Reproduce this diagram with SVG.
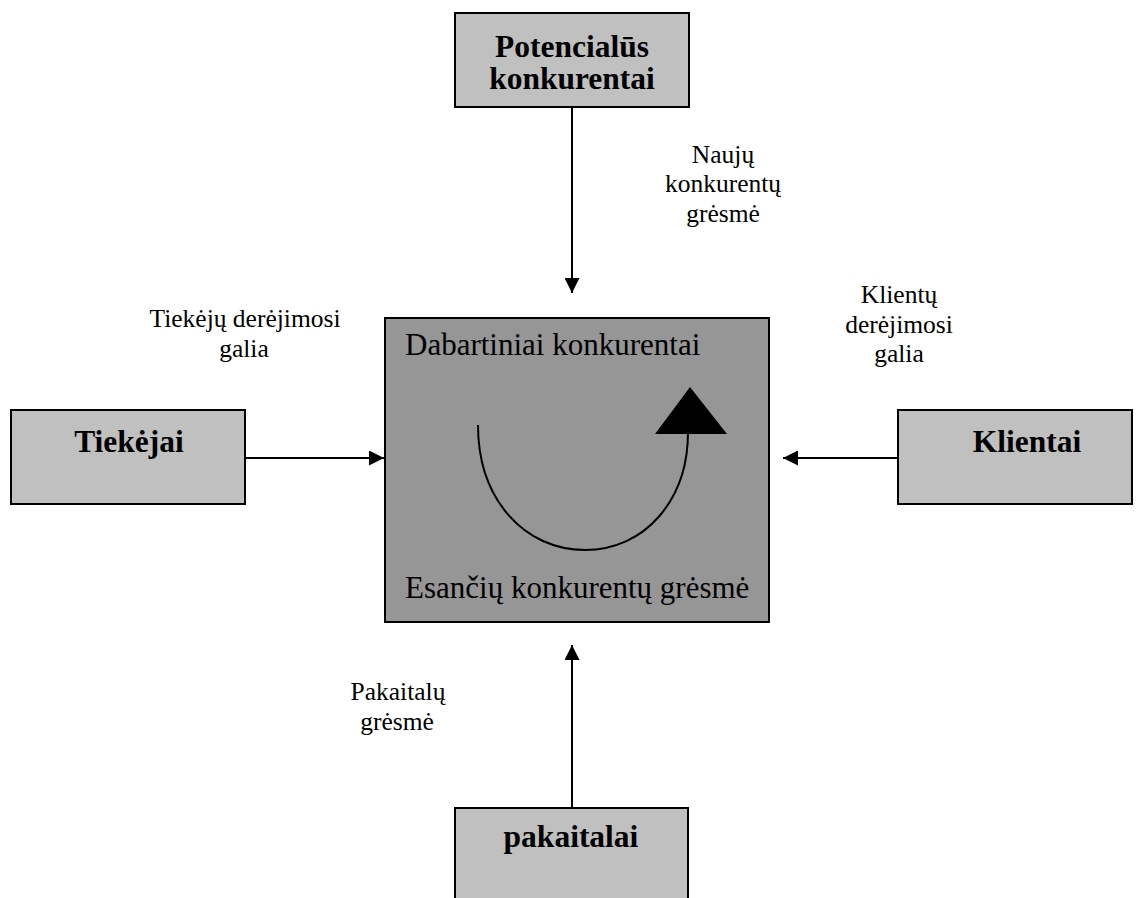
<svg xmlns="http://www.w3.org/2000/svg" width="1146" height="898" viewBox="0 0 1146 898">
  <style>
    .box { fill: #c0c0c0; stroke: #000; stroke-width: 2; }
    .core { fill: #969696; stroke: #000; stroke-width: 2; }
    .title { font-family: "Liberation Serif", "Times New Roman", serif; font-weight: bold; font-size: 31.5px; fill: #000; text-anchor: middle; }
    .label { font-family: "Liberation Serif", "Times New Roman", serif; font-size: 25.5px; fill: #000; text-anchor: middle; }
    .inner { font-family: "Liberation Serif", "Times New Roman", serif; font-size: 31px; fill: #000; }
    .wire { stroke: #000; stroke-width: 2; fill: none; marker-end: url(#head); }
  </style>
  <defs>
    <marker id="head" viewBox="0 0 10 10" refX="10" refY="5" markerWidth="15" markerHeight="15" markerUnits="userSpaceOnUse" orient="auto">
      <path d="M0,0 L10,5 L0,10 Z" fill="#000"/>
    </marker>
  </defs>
  <rect width="1146" height="898" fill="#fff"/>

  <!-- connectors -->
  <g id="connectors">
    <line class="wire" x1="572" y1="107" x2="572" y2="293"/>
    <line class="wire" x1="245" y1="458" x2="384" y2="458"/>
    <line class="wire" x1="898" y1="458" x2="783" y2="458"/>
    <line class="wire" x1="572" y1="808" x2="572" y2="645"/>
  </g>

  <!-- new entrants -->
  <g id="node-potencialus">
    <rect class="box" x="455" y="13" width="234" height="94"/>
    <text class="title" x="572" y="57">Potencialūs</text>
    <text class="title" x="572" y="89">konkurentai</text>
  </g>

  <!-- rivalry among existing competitors -->
  <g id="node-dabartiniai">
    <rect class="core" x="385" y="318" width="384" height="304"/>
    <text class="inner" x="405" y="355">Dabartiniai konkurentai</text>
    <text class="inner" x="405" y="598">Esančių konkurentų grėsmė</text>
    <path d="M478,425 C478,500 525,550 585,550 C645,550 688,500 688,432" fill="none" stroke="#000" stroke-width="2"/>
    <polygon points="690,387 655,434 727,434" fill="#000"/>
  </g>

  <!-- suppliers -->
  <g id="node-tiekejai">
    <rect class="box" x="11" y="410" width="234" height="94"/>
    <text class="title" x="129" y="452">Tiekėjai</text>
  </g>

  <!-- buyers -->
  <g id="node-klientai">
    <rect class="box" x="898" y="410" width="234" height="94"/>
    <text class="title" x="1027" y="452">Klientai</text>
  </g>

  <!-- substitutes -->
  <g id="node-pakaitalai">
    <rect class="box" x="455" y="808" width="233" height="110"/>
    <text class="title" x="571" y="847">pakaitalai</text>
  </g>

  <!-- force labels -->
  <g id="labels">
    <text class="label" x="723" y="163">Naujų</text>
    <text class="label" x="723" y="192">konkurentų</text>
    <text class="label" x="723" y="222">grėsmė</text>

    <text class="label" x="245" y="327">Tiekėjų derėjimosi</text>
    <text class="label" x="244" y="357">galia</text>

    <text class="label" x="899" y="303">Klientų</text>
    <text class="label" x="899" y="333">derėjimosi</text>
    <text class="label" x="899" y="362">galia</text>

    <text class="label" x="398" y="700">Pakaitalų</text>
    <text class="label" x="397" y="730">grėsmė</text>
  </g>
</svg>
